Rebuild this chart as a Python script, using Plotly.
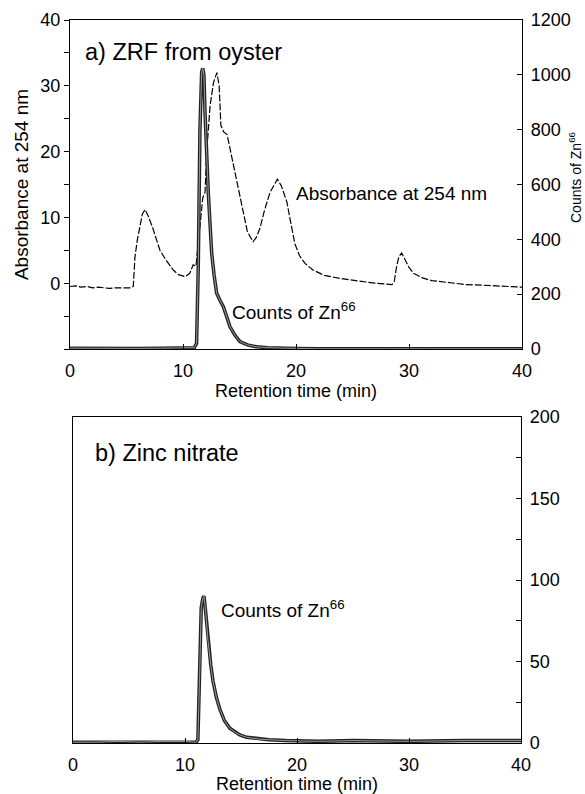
import plotly.graph_objects as go

# ---------------- data ----------------
# (a) ZRF from oyster: absorbance at 254 nm (left axis)
abs_time = [0, 0.5, 1, 1.5, 2, 2.5, 3, 3.5, 4, 4.5, 5, 5.4, 5.6, 5.75, 5.95, 6.15, 6.4, 6.64,
            6.9, 7.3, 7.96, 8.5, 9.14, 9.6, 10.2, 10.6, 10.9, 11.15, 11.5, 11.75, 11.95, 12.1,
            12.4, 12.7, 13.0, 13.2, 13.35, 13.6, 13.9, 14.1, 14.45, 14.9, 15.3, 15.7, 16.2,
            16.5, 16.8, 17.2, 17.7, 18.35, 18.7, 19.2, 19.5, 19.9, 20.3, 20.8, 21.5, 22.5,
            24, 25.5, 27, 28.5, 28.7, 28.9, 29.1, 29.35, 29.7, 30.0, 30.4, 31.2, 32, 33.9,
            35, 36.5, 38, 39, 40]
abs_val = [-0.5, -0.4, -0.6, -0.5, -0.7, -0.6, -0.7, -0.8, -0.7, -0.7, -0.6, -0.7, -0.5, 4.0,
           6.5, 8.5, 10.5, 11.2, 10.3, 8.5, 5.0, 3.5, 2.0, 1.3, 1.0, 1.5, 2.8, 2.6, 9.0, 13.0,
           13.8, 20.0, 27.0, 30.5, 32.0, 30.0, 24.0, 23.0, 22.6, 21.0, 17.8, 14.5, 11.0, 7.8,
           6.3, 7.0, 8.3, 11.0, 13.8, 15.8, 14.8, 12.3, 9.5, 6.0, 4.2, 3.0, 2.0, 1.2, 0.7, 0.3,
           0.0, -0.2, 0.3, 2.5, 4.0, 4.6, 3.5, 2.4, 1.5, 0.8, 0.4, 0.0, -0.2, -0.3, -0.4,
           -0.5, -0.6]

# (a) Counts of Zn66 (right axis, 0-1200)
cnt_a_time = [0, 2, 4, 6, 8, 10, 11.0, 11.2, 11.35, 11.5, 11.65, 11.75, 11.85, 11.95, 12.1,
              12.24, 12.4, 12.54, 12.75, 12.98, 13.3, 13.57, 13.85, 14.16, 14.6, 15.04, 15.7,
              16.5, 17.5, 18.6, 20, 22, 25, 28, 32, 36, 40]
cnt_a_val = [3, 2, 3, 2, 3, 4, 5, 20, 300, 800, 1010, 1024, 1000, 860, 680, 568, 450, 349, 270,
             203, 175, 154, 120, 81, 50, 27, 15, 8, 5, 3, 2, 1, 2, 1, 1, 1, 1]

# (b) Zinc nitrate: counts of Zn66 (right axis, 0-200)
cnt_b_time = [0, 2, 4, 6, 8, 10, 11.0, 11.15, 11.3, 11.45, 11.6, 11.7, 11.85, 12.05, 12.3,
              12.5, 12.8, 13.1, 13.5, 14.0, 14.5, 14.9, 15.5, 16.5, 17.5, 19, 22, 25, 30, 35, 40]
cnt_b_val = [0.5, 0.5, 1, 0.5, 1, 1, 0.5, 2, 40, 83, 89, 90, 80, 63, 48, 38, 28, 21, 14, 9,
             6.5, 5, 3.5, 2.5, 2, 1.5, 1, 1.5, 1, 1.5, 1.5]

x_ticks = [0, 10, 20, 30, 40]
abs_ticks = [0, 10, 20, 30, 40]
abs_minor = [-10, -5, 5, 15, 25, 35]
cnt_a_ticks = [0, 200, 400, 600, 800, 1000, 1200]
cnt_b_ticks = [0, 50, 100, 150, 200]
cnt_b_minor = [25, 75, 125, 175]

FONT = "Liberation Sans, Arial, Helvetica, sans-serif"

# ---------------- figure ----------------
fig = go.Figure()

fig.add_trace(go.Scatter(x=abs_time, y=abs_val, mode="lines", xaxis="x", yaxis="y",
                         line=dict(color="black", width=1.2, dash="7px,2px"),
                         showlegend=False))
fig.add_trace(go.Scatter(x=cnt_a_time, y=cnt_a_val, mode="lines", xaxis="x", yaxis="y2",
                         line=dict(color="#222222", width=3.5), showlegend=False))
fig.add_trace(go.Scatter(x=cnt_a_time, y=cnt_a_val, mode="lines", xaxis="x", yaxis="y2",
                         line=dict(color="#9a9a9a", width=1), showlegend=False))
fig.add_trace(go.Scatter(x=cnt_b_time, y=cnt_b_val, mode="lines", xaxis="x2", yaxis="y3",
                         line=dict(color="#222222", width=3.5), showlegend=False))
fig.add_trace(go.Scatter(x=cnt_b_time, y=cnt_b_val, mode="lines", xaxis="x2", yaxis="y3",
                         line=dict(color="#9a9a9a", width=1), showlegend=False))

W, H = 585, 794
top_dom_x = [70 / W, 522 / W]
top_dom_y = [(H - 349) / H, (H - 20) / H]
bot_dom_x = [73 / W, 521 / W]
bot_dom_y = [(H - 743) / H, (H - 417) / H]

tickfont = dict(family=FONT, size=18, color="black")
xcommon = dict(range=[0, 40], tickvals=x_ticks, ticks="inside", ticklen=5, tickwidth=1,
               tickcolor="black", showline=True, linecolor="black", linewidth=1.3,
               mirror=True, showgrid=False, zeroline=False, tickfont=tickfont,
               ticklabelstandoff=5, automargin=False,
               title=dict(text="Retention time (min)", font=dict(family=FONT, size=18),
                          standoff=0))

fig.update_layout(
    width=W, height=H,
    margin=dict(l=0, r=0, t=0, b=0),
    paper_bgcolor="white", plot_bgcolor="white",
    font=dict(family=FONT, color="black"),
    xaxis=dict(domain=top_dom_x, anchor="y", **xcommon),
    yaxis=dict(domain=top_dom_y, anchor="x", range=[-10, 40], tickvals=abs_ticks,
               ticks="outside", ticklen=5, tickcolor="black",
               showline=True, linecolor="black", linewidth=1.3, showgrid=False,
               zeroline=False, tickfont=tickfont, automargin=False,
               minor=dict(tickvals=abs_minor, ticks="outside", ticklen=5,
                          tickcolor="black", showgrid=False),
               title=dict(text="Absorbance at 254 nm", font=dict(family=FONT, size=19),
                          standoff=6)),
    yaxis2=dict(domain=top_dom_y, anchor="x", overlaying="y", side="right",
                range=[0, 1200], tickvals=cnt_a_ticks, ticks="inside", ticklen=5,
                tickcolor="black", showline=True, linecolor="black", linewidth=1.3,
                showgrid=False, zeroline=False, tickfont=tickfont, ticklabelstandoff=4,
                automargin=False),
    xaxis2=dict(domain=bot_dom_x, anchor="y3", **xcommon),
    yaxis3=dict(domain=bot_dom_y, anchor="x2", side="right", range=[0, 200],
                tickvals=cnt_b_ticks, ticks="inside", ticklen=5, tickcolor="black",
                showline=True, linecolor="black", linewidth=1.3, mirror=True,
                showgrid=False, zeroline=False, tickfont=tickfont, ticklabelstandoff=4,
                automargin=False,
                minor=dict(tickvals=cnt_b_minor, ticks="inside", ticklen=5,
                           tickcolor="black", showgrid=False)),
)

ann_font_big = dict(family=FONT, size=23.5, color="black")
ann_font = dict(family=FONT, size=19, color="black")
fig.add_annotation(text="a) ZRF from oyster", x=1.15, y=35.1, xref="x", yref="y",
                   xanchor="left", yanchor="middle", showarrow=False, font=ann_font_big)
fig.add_annotation(text="Absorbance at 254 nm", x=19.8, y=13.7, xref="x", yref="y",
                   xanchor="left", yanchor="middle", showarrow=False, font=ann_font)
fig.add_annotation(text="Counts of Zn<sup>66</sup>", x=14.2, y=-4.3, xref="x", yref="y",
                   xanchor="left", yanchor="middle", showarrow=False, font=ann_font)
fig.add_annotation(text="b) Zinc nitrate", x=1.8, y=178, xref="x2", yref="y3",
                   xanchor="left", yanchor="middle", showarrow=False, font=ann_font_big)
fig.add_annotation(text="Counts of Zn<sup>66</sup>", x=13.0, y=82, xref="x2", yref="y3",
                   xanchor="left", yanchor="middle", showarrow=False, font=ann_font)
# right-hand axis title of panel (a)
fig.add_annotation(text="Counts of Zn<sup>66</sup>", x=575 / W, y=(H - 177) / H,
                   xref="paper", yref="paper", xanchor="center", yanchor="middle",
                   textangle=-90, showarrow=False, font=dict(family=FONT, size=14))

fig.write_html("out.html", config={"displayModeBar": False},
               post_script="document.body.style.margin='0';")
